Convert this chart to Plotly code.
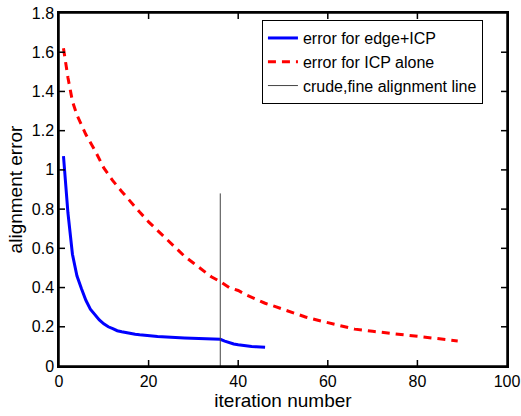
import plotly.graph_objects as go

# Data
edge_icp_iter = list(range(1, 47))
edge_icp_err = [1.07, 0.78, 0.57, 0.46, 0.395, 0.335, 0.29, 0.26, 0.235, 0.215,
                0.20, 0.19, 0.18, 0.175, 0.17, 0.166, 0.162, 0.159, 0.156, 0.153,
                0.151, 0.15, 0.149, 0.147, 0.146, 0.145, 0.144, 0.143, 0.142, 0.141,
                0.14, 0.139, 0.138, 0.137, 0.136, 0.136, 0.127, 0.118, 0.112, 0.108,
                0.104, 0.101, 0.099, 0.098, 0.097, 0.096]

icp_iter = [1, 2, 3, 4, 6, 8, 10, 12, 14, 16, 18, 20, 22, 24, 26, 28, 30, 32, 34, 36,
            38, 40, 42, 44, 46, 48, 50, 52, 55, 58, 62, 66, 70, 74, 78, 82, 86, 89]
icp_err = [1.62, 1.47, 1.35, 1.28, 1.18, 1.10, 1.01, 0.945, 0.89, 0.835, 0.785, 0.735,
           0.69, 0.645, 0.60, 0.56, 0.525, 0.49, 0.455, 0.43, 0.40, 0.385, 0.36, 0.34,
           0.32, 0.305, 0.29, 0.275, 0.25, 0.232, 0.209, 0.188, 0.177, 0.167, 0.155,
           0.145, 0.135, 0.128]

switch_iter = [36, 36]
switch_err = [0, 0.88]

x_ticks = [0, 20, 40, 60, 80, 100]
y_ticks = [0, 0.2, 0.4, 0.6, 0.8, 1, 1.2, 1.4, 1.6, 1.8]
y_tick_labels = ["0", "0.2", "0.4", "0.6", "0.8", "1", "1.2", "1.4", "1.6", "1.8"]

FONT = "Liberation Sans, Arial, sans-serif"
W, H = 521, 416
ML, MR, MT, MB = 59, 14, 13, 50
TICK_PX = 6

fig = go.Figure()
fig.add_trace(go.Scatter(x=edge_icp_iter, y=edge_icp_err, mode="lines",
                         name="error for edge+ICP",
                         line=dict(color="#0000ff", width=3)))
fig.add_trace(go.Scatter(x=icp_iter, y=icp_err, mode="lines",
                         name="error for ICP alone",
                         line=dict(color="#ff0000", width=3, dash="8px,6px")))
fig.add_trace(go.Scatter(x=switch_iter, y=switch_err, mode="lines",
                         name="crude,fine alignment line",
                         line=dict(color="#444444", width=1)))

axis_common = dict(showline=True, linecolor="black", linewidth=1.5, mirror=True,
                   ticks="", showgrid=False, zeroline=False, automargin=False,
                   tickfont=dict(family=FONT, size=16, color="black"))

fig.update_xaxes(range=[0, 100], tickvals=x_ticks,
                 title=dict(text="iteration number", standoff=2,
                            font=dict(family=FONT, size=19, color="black")),
                 **axis_common)
fig.update_yaxes(range=[0, 1.8], tickvals=y_ticks, ticktext=y_tick_labels,
                 title=dict(text="alignment error", standoff=4,
                            font=dict(family=FONT, size=19, color="black")),
                 **axis_common)

# Inside tick marks on all four sides, placed at the axis tick values
tx = TICK_PX / (H - MT - MB)
ty = TICK_PX / (W - ML - MR)
tick_line = dict(color="black", width=1.5)
for t in x_ticks[1:-1]:
    fig.add_shape(type="line", xref="x", yref="paper", x0=t, x1=t, y0=0, y1=tx,
                  line=tick_line, layer="above")
    fig.add_shape(type="line", xref="x", yref="paper", x0=t, x1=t, y0=1, y1=1 - tx,
                  line=tick_line, layer="above")
for t in y_ticks[1:-1]:
    fig.add_shape(type="line", xref="paper", yref="y", x0=0, x1=ty, y0=t, y1=t,
                  line=tick_line, layer="above")
    fig.add_shape(type="line", xref="paper", yref="y", x0=1, x1=1 - ty, y0=t, y1=t,
                  line=tick_line, layer="above")

# Plot frame (box around the axes)
fig.add_shape(type="rect", xref="paper", yref="paper", x0=0, y0=0, x1=1, y1=1,
              line=dict(color="black", width=1.5), layer="above")

fig.update_layout(
    width=W, height=H,
    margin=dict(l=ML, r=MR, t=MT, b=MB),
    paper_bgcolor="white", plot_bgcolor="white",
    font=dict(family=FONT, color="black"),
    legend=dict(x=0.453, y=0.98, xanchor="left", yanchor="top",
                bordercolor="black", borderwidth=1, bgcolor="white",
                font=dict(family=FONT, size=16, color="black"),
                tracegroupgap=0),
)

fig.write_html("out.html", config={"displayModeBar": False},
               post_script="document.body.style.margin='0';document.body.style.overflow='hidden';")
